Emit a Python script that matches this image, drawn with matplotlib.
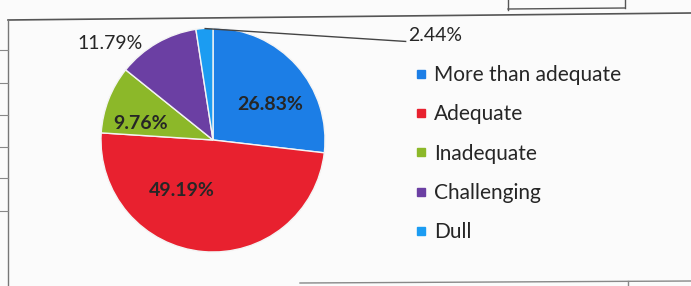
import matplotlib.pyplot as plt
from matplotlib.lines import Line2D

categories = ["More than adequate", "Adequate", "Inadequate", "Challenging", "Dull"]
shares = [26.83, 49.19, 9.76, 11.79, 2.44]
colors = ["#1c7ee6", "#e8212f", "#8cb829", "#6b3fa3", "#1b9cf2"]
pct_labels = ["26.83%", "49.19%", "9.76%", "11.79%", "2.44%"]

W, H = 691, 286
plt.rcParams['font.family'] = ['Lato', 'DejaVu Sans']

fig = plt.figure(figsize=(W / 100, H / 100), dpi=100)
fig.patch.set_facecolor("#fbfbfb")

def px(x, y):
    # pixel position (from top-left) to figure fraction
    return x / W, 1 - y / H

# pie axes: center (213, 140), radius 112 px
cx, cy, r = 213, 140, 112
l, b = px(cx - r, cy + r)
ax = fig.add_axes([l, b, 2 * r / W, 2 * r / H])
wedges, _ = ax.pie(shares, colors=colors, startangle=90, counterclock=False,
                   wedgeprops=dict(edgecolor="#f4f4f4", linewidth=1.0))
ax.set_xlim(-1, 1)
ax.set_ylim(-1, 1)
ax.set_aspect("auto")
ax.axis("off")

# data labels (positions as in the original best-fit layout)
label_pos = [(0.51, 0.32), (-0.28, -0.45), (-0.65, 0.15), (-0.92, 0.86), (1.74, 0.93)]
bold = [True, True, True, False, False]
for txt, (x, y), bb in zip(pct_labels, label_pos, bold):
    ha = "left" if txt == "2.44%" else "center"
    ax.text(x, y, txt, ha=ha, va="center", fontsize=14,
            fontweight="bold" if bb else "normal", color="#262626", clip_on=False)

# leader line for the small slice
ax.add_line(Line2D([-0.07, 1.72], [0.995, 0.88], color="#444444", lw=1.0, clip_on=False))

# legend
handles = [Line2D([], [], marker="s", linestyle="none", markersize=6,
                  markerfacecolor=c, markeredgecolor=c) for c in colors]
leg = fig.legend(handles, categories, loc="upper left",
                 bbox_to_anchor=px(405, 57), frameon=False, fontsize=15,
                 handlelength=0.7, handletextpad=0.3, labelspacing=0.92,
                 borderaxespad=0)
for t in leg.get_texts():
    t.set_color("#262626")

# frame of the scanned page
fig.add_artist(Line2D([8 / W, 1], [1 - 20 / H, 1 - 13 / H], color="#555555", lw=1.2))
fig.add_artist(Line2D([8 / W, 8 / W], [1 - 20 / H, 0], color="#777777", lw=1.0))
fig.add_artist(Line2D([300 / W, 1], [1 - 283 / H, 1 - 281 / H], color="#888888", lw=1.0))
fig.add_artist(Line2D([628 / W, 628 / W], [1 - 281 / H, 0], color="#888888", lw=1.0))
fig.add_artist(Line2D([508 / W, 508 / W], [1, 1 - 10 / H], color="#555555", lw=1.0))
fig.add_artist(Line2D([508 / W, 625 / W], [1 - 9 / H, 1 - 8 / H], color="#555555", lw=1.0))
fig.add_artist(Line2D([625 / W, 625 / W], [1, 1 - 8 / H], color="#555555", lw=1.0))
for yy in [50, 83, 115, 147, 178, 211]:
    fig.add_artist(Line2D([0, 8 / W], [1 - yy / H, 1 - yy / H], color="#888888", lw=0.8))

fig.savefig("out.png", dpi=100, facecolor=fig.get_facecolor())
